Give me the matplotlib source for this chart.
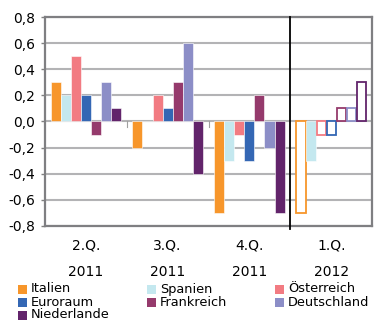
import matplotlib
matplotlib.use("Agg")
import matplotlib.pyplot as plt
from matplotlib.patches import Rectangle
import numpy as np

quarters = ["2.Q.\n2011", "3.Q.\n2011", "4.Q.\n2011", "1.Q.\n2012"]
series_names = ["Italien", "Spanien", "Österreich", "Euroraum",
                "Frankreich", "Deutschland", "Niederlande"]
colors = ["#F7962B", "#C4E8EF", "#F27B82", "#3467B4",
          "#953A6C", "#8C8EC7", "#62246B"]

italien = [0.3, -0.2, -0.7, -0.7]
spanien = [0.2, 0.0, -0.3, -0.3]
oesterreich = [0.5, 0.2, -0.1, -0.1]
euroraum = [0.2, 0.1, -0.3, -0.1]
frankreich = [-0.1, 0.3, 0.2, 0.1]
deutschland = [0.3, 0.6, -0.2, 0.1]
niederlande = [0.1, -0.4, -0.7, 0.3]
values = [italien, spanien, oesterreich, euroraum, frankreich, deutschland, niederlande]

# last quarter is a forecast: drawn as outlines, except Spanien (filled)
forecast_filled = [False, True, False, False, False, False, False]

yticks = [0.8, 0.6, 0.4, 0.2, 0.0, -0.2, -0.4, -0.6, -0.8]

plt.rcParams["font.family"] = "DejaVu Sans"

W, H = 374, 321
fig = plt.figure(figsize=(W / 100, H / 100), dpi=100)
ax = fig.add_axes([0.120, 0.296, 0.875, 0.651])

n = len(series_names)
group_w = 0.86
bw = group_w / n
x = np.arange(len(quarters))

for i, (name, vals, col) in enumerate(zip(series_names, values, colors)):
    pos = x - group_w / 2 + bw * (i + 0.5)
    ax.bar(pos[:3], vals[:3], width=bw, color=col, edgecolor="white",
           linewidth=0.4, zorder=3)
    if forecast_filled[i]:
        ax.bar(pos[3], vals[3], width=bw, color=col, edgecolor="white",
               linewidth=0.4, zorder=3)
    else:
        ax.bar(pos[3], vals[3], width=bw * 0.92, facecolor="white",
               edgecolor=col, linewidth=1.3, zorder=3)

ax.set_xlim(-0.5, len(quarters) - 0.5)
ax.set_ylim(-0.8, 0.8)
ax.set_yticks(yticks)
ax.set_yticklabels([f"{v:.1f}".replace(".", ",") for v in yticks], fontsize=10)
ax.yaxis.grid(True, color="#B3B3B5", linewidth=1.5, zorder=0)
ax.set_axisbelow(True)

ax.set_xticks(x)
ax.set_xticklabels(quarters, fontsize=10, linespacing=2.1)
ax.tick_params(axis="x", length=0, pad=9)
ax.tick_params(axis="y", length=3, color="#808080", width=1, pad=4)

# small boundary ticks on the zero line
for b in [0.5, 1.5]:
    ax.plot([b, b], [-0.04, 0.0], color="#A0A0A0", linewidth=0.8, zorder=2)

for s in ax.spines.values():
    s.set_color("#7F7F82")
    s.set_linewidth(1.6)

# separator between observed and forecast quarter
ax.plot([2.5, 2.5], [0.8, -0.82], color="black", linewidth=1.3,
        clip_on=False, zorder=4)

# legend: three columns, filled row by row
col_x = [18, 147, 275]
row_y = [289, 302, 315]
for k, (name, col) in enumerate(zip(series_names, colors)):
    r, c = divmod(k, 3)
    px, py = col_x[c], row_y[r]
    fig.patches.append(Rectangle((px / W, (H - py - 4.5) / H), 9 / W, 9 / H,
                                 transform=fig.transFigure, facecolor=col,
                                 edgecolor="none"))
    fig.text((px + 13) / W, (H - py) / H, name, fontsize=9.3,
             va="center", ha="left")

fig.savefig("out.png", dpi=100)
